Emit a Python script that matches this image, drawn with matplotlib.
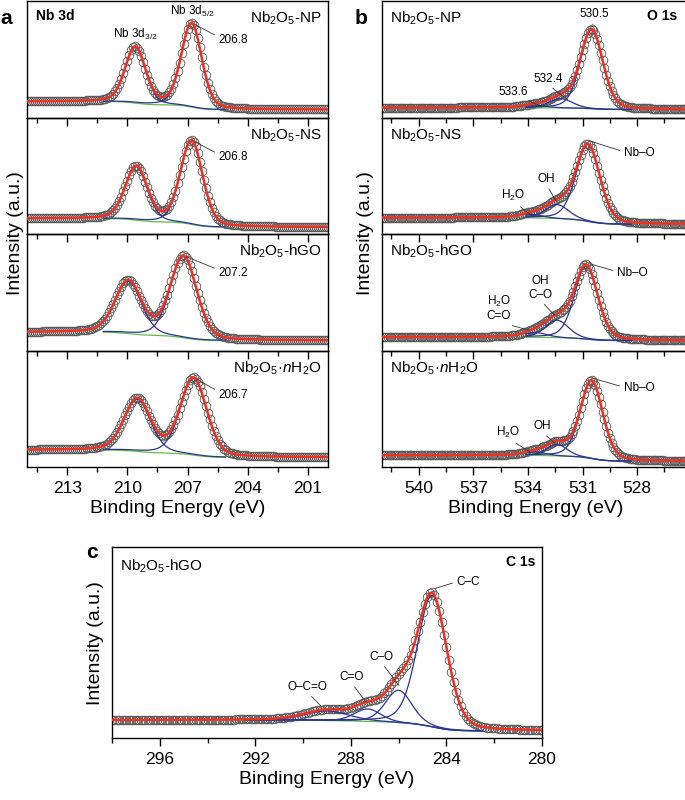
import numpy as np
import matplotlib.pyplot as plt
from matplotlib.ticker import MultipleLocator

plt.rcParams['font.family'] = ['Liberation Sans', 'DejaVu Sans']
plt.rcParams['mathtext.fontset'] = 'custom'
plt.rcParams['mathtext.rm'] = 'Liberation Sans'
plt.rcParams['mathtext.it'] = 'Liberation Sans:italic'
plt.rcParams['mathtext.bf'] = 'Liberation Sans:bold'

# ---- values (intensity as fraction of each panel) ----
samples = ['Nb$_2$O$_5$-NP', 'Nb$_2$O$_5$-NS', 'Nb$_2$O$_5$-hGO', 'Nb$_2$O$_5$·$n$H$_2$O']

# Nb 3d: [3d5/2, 3d3/2]
nb_pos = [[206.8, 209.6], [206.8, 209.55], [207.2, 209.95], [206.7, 209.5]]
nb_height = [[0.72, 0.48], [0.72, 0.46], [0.70, 0.45], [0.66, 0.45]]
nb_fwhm = [[1.2, 1.2], [1.3, 1.3], [1.55, 1.55], [1.55, 1.55]]
nb_bg = [[0.138, 0.069], [0.133, 0.060], [0.158, 0.086], [0.146, 0.083]]
nb_peak_text = ['206.8', '206.8', '207.2', '206.7']

# O 1s: [Nb-O, OH, H2O]
o_pos = [[530.5, 532.2, 533.6], [530.7, 532.4, 533.8], [530.8, 532.4, 533.6], [530.5, 532.4, 533.6]]
o_height = [[0.68, 0.08, 0.02], [0.66, 0.12, 0.03], [0.63, 0.15, 0.04], [0.67, 0.10, 0.03]]
o_fwhm = [[1.45, 1.5, 1.5], [1.55, 1.5, 1.4], [1.5, 1.5, 1.5], [1.45, 1.3, 1.4]]
o_bg = [[0.085, 0.070], [0.140, 0.085], [0.115, 0.086], [0.100, 0.050]]

# C 1s: [C-C, C-O, C=O, O-C=O]
c_pos = [284.6, 286.0, 287.3, 289.0]
c_height = [0.69, 0.17, 0.065, 0.05]
c_fwhm = [1.45, 1.3, 1.3, 2.2]
c_bg = [0.094, 0.037]

RED = '#ec3223'
BLUE = '#2b3595'
GREEN = '#62bb46'
CIRC = '#555555'


def gl(x, c, h, w, m=0.25):
    d = (x - c) / w
    return h * ((1 - m) * np.exp(-4 * np.log(2) * d ** 2) + m / (1 + 4 * d ** 2))


def spectrum(x, pos, hts, fw, bg, win):
    comps = [gl(x, c, h, w) for c, h, w in zip(pos, hts, fw)]
    total = np.sum(comps, axis=0)
    inwin = (x >= win[0]) & (x <= win[1])
    cum = np.cumsum(total * inwin)
    frac = cum / cum[-1]
    back = bg[1] + (bg[0] - bg[1]) * frac
    return comps, back, total + back, inwin


def draw(ax, x, pos, hts, fw, bg, win):
    comps, back, env, inwin = spectrum(x, pos, hts, fw, bg, win)
    ax.plot(x, env, 'o', ms=6.2, mfc='none', mec=CIRC, mew=0.6, zorder=2)
    ax.plot(x[inwin], back[inwin], color=GREEN, lw=0.9, zorder=3)
    for comp in comps:
        ax.plot(x[inwin], (comp + back)[inwin], color=BLUE, lw=0.9, zorder=3)
    ax.plot(x, env, color=RED, lw=1.8, zorder=4)
    return env


def style(ax, xlim, major, minor, last):
    ax.set_xlim(*xlim)
    ax.set_ylim(0, 1)
    ax.set_yticks([])
    ax.set_facecolor('none')
    ax.xaxis.set_major_locator(MultipleLocator(major))
    ax.xaxis.set_minor_locator(MultipleLocator(minor))
    ax.tick_params(axis='x', which='major', direction='out', length=6, width=1,
                   labelsize=12.5, pad=4, labelbottom=last)
    ax.tick_params(axis='x', which='minor', direction='out', length=3.5, width=1)
    for s in ax.spines.values():
        s.set_linewidth(1.0)


def note(ax, text, xy, xytext, ha='center', relpos=(0.5, 0.0)):
    ax.annotate(text, xy=xy, xytext=xytext, fontsize=8.5, ha=ha, va='center',
                arrowprops=dict(arrowstyle='-', lw=0.6, color='#333333',
                                shrinkA=1, shrinkB=1, relpos=relpos), zorder=6)


W, H = 685, 800
fig = plt.figure(figsize=(W / 100, H / 100), dpi=100)

# ---------------- panel a : Nb 3d ----------------
xa = np.arange(200.0, 215.01, 0.1)
a_left, a_w = 27 / W, 301 / W
top, bottom = 0.9985, 1 - 467 / H
ph = (top - bottom) / 4
axes_a = []
for i in range(4):
    ax = fig.add_axes([a_left, top - (i + 1) * ph, a_w, ph])
    env = draw(ax, xa, nb_pos[i], nb_height[i], nb_fwhm[i], nb_bg[i], (205.0, 211.2))
    style(ax, (215, 200), 3, 1.5, i == 3)
    ax.text(0.98, 0.85, samples[i], transform=ax.transAxes, ha='right', va='center', fontsize=11)
    p = nb_pos[i][0]
    ytop = np.interp(p, xa, env)
    ax.annotate(nb_peak_text[i], xy=(p - 0.1, ytop - 0.01), xytext=(205.45, ytop - 0.15),
                fontsize=8.5, ha='left', va='center',
                arrowprops=dict(arrowstyle='-', lw=0.6, color='#333333',
                                shrinkA=1, shrinkB=1, relpos=(0, 0.75)), zorder=6)
    axes_a.append(ax)
axes_a[0].text(0.03, 0.87, 'Nb 3d', transform=axes_a[0].transAxes, fontsize=10,
               fontweight='bold', va='center')
axes_a[0].text(209.6, 0.715, 'Nb 3d$_{3/2}$', ha='center', va='center', fontsize=8.5)
axes_a[0].text(206.75, 0.915, 'Nb 3d$_{5/2}$', ha='center', va='center', fontsize=8.5)
axes_a[3].set_xlabel('Binding Energy (eV)', fontsize=14, labelpad=3)

# ---------------- panel b : O 1s ----------------
xb = np.arange(525.0, 542.01, 0.1)
b_left, b_w = 382.3 / W, 305.8 / W
axes_b = []
for i in range(4):
    ax = fig.add_axes([b_left, top - (i + 1) * ph, b_w, ph])
    env = draw(ax, xb, o_pos[i], o_height[i], o_fwhm[i], o_bg[i], (528.3, 534.2))
    style(ax, (542, 525.2), 3, 1.5, i == 3)
    ax.text(0.026, 0.85, samples[i], transform=ax.transAxes, ha='left', va='center', fontsize=11)
    axes_b.append(ax)
axes_b[0].text(0.965, 0.87, 'O 1s', transform=axes_b[0].transAxes, ha='right', va='center',
               fontsize=10, fontweight='bold')
axes_b[3].set_xlabel('Binding Energy (eV)', fontsize=14, labelpad=3)

ax = axes_b[0]
note(ax, '530.5', (530.5, 0.79), (530.35, 0.89))
note(ax, '532.4', (531.75, 0.145), (532.9, 0.336))
note(ax, '533.6', (533.2, 0.09), (534.8, 0.224), relpos=(0.8, 0.0))
ax = axes_b[1]
note(ax, 'Nb–O', (530.6, 0.80), (528.74, 0.697), ha='left', relpos=(0, 0.6))
note(ax, 'OH', (532.42, 0.274), (532.97, 0.475))
note(ax, 'H$_2$O', (533.7, 0.147), (534.8, 0.33), relpos=(0.6, 0.0))
ax = axes_b[2]
note(ax, 'Nb–O', (530.7, 0.75), (529.1, 0.666), ha='left', relpos=(0, 0.6))
note(ax, 'OH\nC–O', (532.43, 0.287), (533.3, 0.54), relpos=(0.5, 0.0))
note(ax, 'H$_2$O\nC=O', (533.9, 0.172), (535.6, 0.366), relpos=(0.6, 0.0))
ax = axes_b[3]
note(ax, 'Nb–O', (530.4, 0.76), (528.74, 0.675), ha='left', relpos=(0, 0.6))
note(ax, 'OH', (532.47, 0.197), (533.2, 0.35))
note(ax, 'H$_2$O', (533.8, 0.12), (535.1, 0.30), relpos=(0.6, 0.0))

# ---------------- panel c : C 1s ----------------
xc = np.arange(280.0, 298.01, 0.1)
axc = fig.add_axes([112 / W, 1 - 738 / H, 430 / W, 191 / H])
env = draw(axc, xc, c_pos, c_height, c_fwhm, c_bg, (282.5, 292.5))
style(axc, (298, 280), 4, 2, True)
axc.text(0.019, 0.90, samples[2], transform=axc.transAxes, ha='left', va='center', fontsize=11)
axc.text(0.984, 0.923, 'C 1s', transform=axc.transAxes, ha='right', va='center',
         fontsize=10, fontweight='bold')
axc.set_xlabel('Binding Energy (eV)', fontsize=14, labelpad=3)
note(axc, 'C–C', (284.55, 0.78), (283.57, 0.818), ha='left', relpos=(0, 0.5))
note(axc, 'C–O', (285.95, 0.269), (286.72, 0.426))
note(axc, 'C=O', (287.34, 0.183), (287.97, 0.32))
note(axc, 'O–C=O', (289.23, 0.164), (289.8, 0.269))

# ---------------- shared labels ----------------
fig.text(16 / W, 1 - 233 / H, 'Intensity (a.u.)', rotation=90, ha='center', va='center', fontsize=14)
fig.text(365 / W, 1 - 233 / H, 'Intensity (a.u.)', rotation=90, ha='center', va='center', fontsize=14)
fig.text(95 / W, 1 - 643 / H, 'Intensity (a.u.)', rotation=90, ha='center', va='center', fontsize=14)
fig.text(6 / W, 1 - 18 / H, 'a', ha='center', va='center', fontsize=15, fontweight='bold')
fig.text(361 / W, 1 - 18 / H, 'b', ha='center', va='center', fontsize=15, fontweight='bold')
fig.text(92 / W, 1 - 552 / H, 'c', ha='center', va='center', fontsize=15, fontweight='bold')

fig.savefig('out.png', dpi=100)
